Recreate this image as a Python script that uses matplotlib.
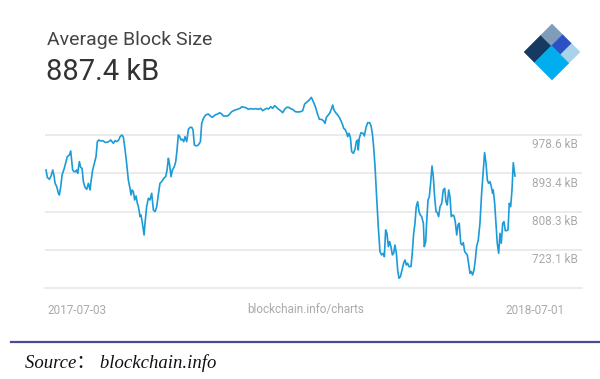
import matplotlib
matplotlib.use("Agg")
import matplotlib.pyplot as plt
from matplotlib.patches import Polygon
from matplotlib.transforms import offset_copy

plt.rcParams['font.family'] = ['Roboto', 'DejaVu Sans']

# days since 2017-07-03, average block size in kB
days = [0, 1.0, 2.6, 3.9, 5.2, 6.2, 7.0, 8.3, 9.6, 10.3,
        11.4, 12.4, 13.9, 15.5, 16.5, 18.1, 19.1, 19.9, 20.6, 21.7,
        22.7, 23.7, 24.5, 25.8, 26.8, 27.9, 28.9, 30.2, 31.5, 32.8,
        34.1, 34.8, 36.1, 37.4, 38.7, 39.7, 40.8, 42.3, 43.9, 45.7,
        47.0, 48.5, 50.1, 51.1, 52.1, 53.4, 54.7, 56.3, 57.3, 58.8,
        59.9, 61.2, 62.4, 63.7, 65.0, 65.8, 66.6, 67.6, 68.6, 69.7,
        70.7,
        71.5, 72.8, 73.5, 74.6, 75.9, 76.6, 77.9, 79.2, 80.5, 81.8,
        83.1, 84.4, 85.7, 86.9, 88.2, 89.5, 91.1, 92.6, 93.7, 94.7,
        95.5, 96.8, 97.8, 99.3, 100.4, 101.4, 102.4, 103.5, 104.5, 105.5,
        106.6, 107.6, 108.9, 110.2, 111.5, 112.8, 113.8, 114.8, 116.4, 117.9,
        119.5, 120.5, 121.8, 123.6, 125.6, 127.2, 128.7, 130.8, 132.9, 134.4,
        136.0, 137.3, 139.1, 140.6, 142.2, 143.7,
        146.3, 148.1, 150.2, 151.7, 153.3, 154.8, 156.6, 158.4, 160.5, 162.5,
        164.3, 166.2, 167.7, 169.3, 170.8, 172.3, 173.9, 175.4, 177.0, 178.5,
        180.1, 181.6, 183.2, 184.7, 186.3, 187.8, 189.4, 190.9, 193.0, 195.1,
        197.1, 198.7, 200.2, 202.3, 203.8, 205.4, 206.9, 208.5, 210.0, 211.6,
        213.1, 214.7, 216.0,
        217.0, 218.5, 219.8, 221.1, 221.9, 222.9, 224.2, 225.8, 227.0, 228.3,
        229.4, 230.4, 231.4, 232.7, 233.5, 234.5, 235.6, 236.6, 237.9, 239.2,
        240.2, 241.2, 241.7, 242.5, 243.8, 245.4, 246.4, 247.7, 249.0, 250.5,
        251.6, 252.6, 253.6, 254.7, 255.9, 257.2, 258.5, 259.8, 261.1, 261.9,
        262.9, 263.9, 265.0, 266.0, 267.0, 268.1, 269.1, 270.1, 271.2, 272.2,
        273.2, 274.3, 275.3, 276.8, 277.9, 278.9, 279.9, 281.0, 282.5, 283.5,
        284.6, 285.6, 286.6, 287.7, 288.7, 289.7, 290.8,
        292.1, 292.8, 293.9, 294.6, 295.7, 296.7, 297.7, 298.8, 299.8, 300.8,
        301.9, 302.9, 303.9, 305.0, 306.3, 307.5, 308.6, 309.6, 310.6, 311.7,
        312.7, 313.7, 314.8, 315.8, 316.8, 317.9, 318.9, 319.9, 321.0, 322.0,
        323.0, 324.1, 325.1, 326.1, 327.1, 328.2, 329.2, 330.2, 331.3, 332.3,
        333.3, 334.6, 335.9, 337.2, 338.5, 339.5, 340.6, 341.6, 342.6, 343.7,
        344.7, 345.7, 346.2, 347.3, 348.3, 349.3, 350.4, 351.4, 352.4, 353.5,
        354.5, 355.5, 356.6, 357.6, 358.6, 359.7, 360.7, 361.7, 363.0]

block_kb = [900.8, 884.5, 880.1, 887.5, 900.8, 887.5, 871.2, 863.8, 849.0, 845.3,
            863.8, 889.7, 902.3, 919.4, 930.5, 934.2, 943.1, 919.4, 900.8, 897.1,
            897.1, 900.8, 893.4, 919.4, 906.8, 904.5, 874.9, 862.3, 857.9, 871.2,
            856.4, 874.9, 900.8, 915.6, 930.5, 963.8, 967.5, 965.3, 966.0, 962.3,
            962.3, 963.8, 967.5, 963.8, 960.1, 966.0, 963.8, 967.5, 974.9, 978.6,
            973.4, 945.3, 915.6, 878.6, 860.1, 845.3, 856.4, 852.7, 834.2, 843.1,
            826.8,
            819.4, 797.2, 800.9, 782.3, 756.4, 782.3, 819.4, 837.9, 834.2, 849.0,
            812.0, 808.3, 819.4, 845.3, 871.2, 874.9, 882.3, 886.0, 900.8, 926.8,
            915.6, 886.0, 900.8, 908.2, 919.4, 945.3, 978.6, 974.9, 967.5, 969.0,
            963.8, 974.9, 963.8, 991.2, 995.6, 995.6, 989.7, 956.4, 954.2, 956.4,
            963.8, 1004.5, 1015.6, 1023.0, 1025.3, 1020.8, 1017.9, 1023.0, 1025.3, 1028.2,
            1025.3, 1020.8, 1020.8, 1020.8, 1025.3, 1030.4,
            1034.1, 1035.6, 1037.9, 1041.6, 1040.1, 1039.3, 1035.6, 1037.1, 1036.4, 1037.1,
            1035.6, 1037.9, 1032.7, 1035.6, 1037.9, 1036.4, 1041.6, 1037.9, 1043.8, 1040.1,
            1035.6, 1032.7, 1028.2, 1035.6, 1040.1, 1040.1, 1037.1, 1035.6, 1030.4, 1029.7,
            1030.4, 1032.7, 1047.5, 1052.7, 1056.4, 1062.3, 1052.7, 1041.6, 1026.7, 1013.4,
            1013.4, 1010.4, 1004.5,
            1017.9, 1023.0, 1028.2, 1037.9, 1045.3, 1034.1, 1028.2, 1023.0, 1017.9, 1010.4,
            1003.0, 993.4, 991.2, 983.8, 974.9, 982.3, 973.4, 941.6, 937.9, 946.8,
            963.8, 967.5, 945.3, 971.2, 983.8, 982.3, 976.4, 995.6, 1006.0, 1006.0,
            998.6, 982.3, 952.7, 908.2, 841.6, 774.9, 719.4, 712.0, 715.7, 708.3,
            767.5, 760.1, 730.5, 741.6, 730.5, 712.0, 715.7, 734.2, 715.7, 678.7,
            660.1, 663.8, 675.0, 693.5, 700.9, 689.8, 693.5, 686.1, 686.1, 715.7,
            760.1, 782.3, 819.4, 830.5, 808.3, 800.9, 797.2,
            782.3, 730.5, 741.6, 782.3, 834.2, 841.6, 871.2, 909.7, 886.0, 841.6,
            808.3, 806.0, 797.2, 819.4, 826.8, 856.4, 860.1, 830.5, 823.1, 856.4,
            841.6, 797.2, 800.9, 798.6, 786.0, 756.4, 778.6, 782.3, 737.9, 734.2,
            739.4, 719.4, 715.7, 712.0, 693.5, 671.2, 675.0, 667.5, 678.7, 700.9,
            730.5, 745.3, 782.3, 849.0, 900.8, 939.4, 915.6, 878.6, 871.2, 874.9,
            863.8, 849.0, 856.4, 826.8, 782.3, 737.9, 715.7, 760.1, 737.9, 782.3,
            786.0, 766.0, 766.0, 767.5, 826.8, 819.4, 856.4, 917.1, 887.4]

grid_kb = [978.6, 893.4, 808.3, 723.1]
grid_labels = ["978.6 kB", "893.4 kB", "808.3 kB", "723.1 kB"]

W, H = 600, 379
fig = plt.figure(figsize=(6, 3.79), dpi=100)
ax = fig.add_axes([45 / W, 1 - 288.3 / H, 537 / W, 198.3 / H])

ax.plot(days, block_kb, color="#1b9bd7", lw=1.2, solid_joinstyle="round")
ax.set_xlim(-0.8, 414.9)
ax.set_ylim(637.9, 1078.6)

ax.set_yticks(grid_kb)
ax.grid(axis="y", color="#e6e6e6", lw=1.1)
ax.set_axisbelow(True)
ax.tick_params(length=0, labelleft=False, labelbottom=False)
for s in ["left", "right", "top"]:
    ax.spines[s].set_visible(False)
ax.spines["bottom"].set_color("#e6e6e6")
ax.spines["bottom"].set_linewidth(1.1)

lab_tr = offset_copy(ax.get_yaxis_transform(), fig=fig, y=-10, units="dots")
for v, t in zip(grid_kb, grid_labels):
    ax.text(0.9926, v, t, transform=lab_tr, ha="right", va="center",
            fontsize=8.5, color="#aaaaaa")

# header
fig.text(47 / W, 1 - 40 / H, "Average Block Size", fontsize=14,
         color="#444444", va="center")
fig.text(46 / W, 1 - 72 / H, "887.4 kB", fontsize=21,
         color="#333333", va="center")

# footer labels
fig.text(47 / W, 1 - 310 / H, "2017-07-03", fontsize=8.5, color="#aaaaaa", va="center")
fig.text(306 / W, 1 - 310 / H, "blockchain.info/charts", fontsize=8.5,
         color="#aaaaaa", va="center", ha="center")
fig.text(565 / W, 1 - 310 / H, "2018-07-01", fontsize=8.5, color="#aaaaaa",
         va="center", ha="right")

fig.add_artist(plt.Line2D([11 / W, 1], [1 - 342 / H, 1 - 342 / H],
                          color="#464c96", lw=1.6))
fig.text(25 / W, 1 - 363 / H, "Source\uff1a blockchain.info", fontsize=13.5,
         style="italic", family=["Liberation Serif", "Noto Sans CJK SC"],
         color="#111111", va="center")


# logo: diamond split into tiles
def pt(a, b):
    x = 524 + 28 * a + 28 * b
    y = 52 - 28 * a + 28 * b
    return (x / W, 1 - y / H)


tiles = [
    ((0, 0.6, 0, 0.38), "#163a61"),
    ((0.6, 1, 0, 0.38), "#7f9db9"),
    ((0.6, 1, 0.38, 0.7), "#2b52c4"),
    ((0.6, 1, 0.7, 1), "#a8d3ea"),
    ((0, 0.6, 0.38, 1), "#00aeef"),
]
for (a0, a1, b0, b1), c in tiles:
    poly = Polygon([pt(a0, b0), pt(a1, b0), pt(a1, b1), pt(a0, b1)],
                   closed=True, transform=fig.transFigure, facecolor=c,
                   edgecolor=c, lw=0.3)
    fig.add_artist(poly)

fig.savefig("out.png", dpi=100)
